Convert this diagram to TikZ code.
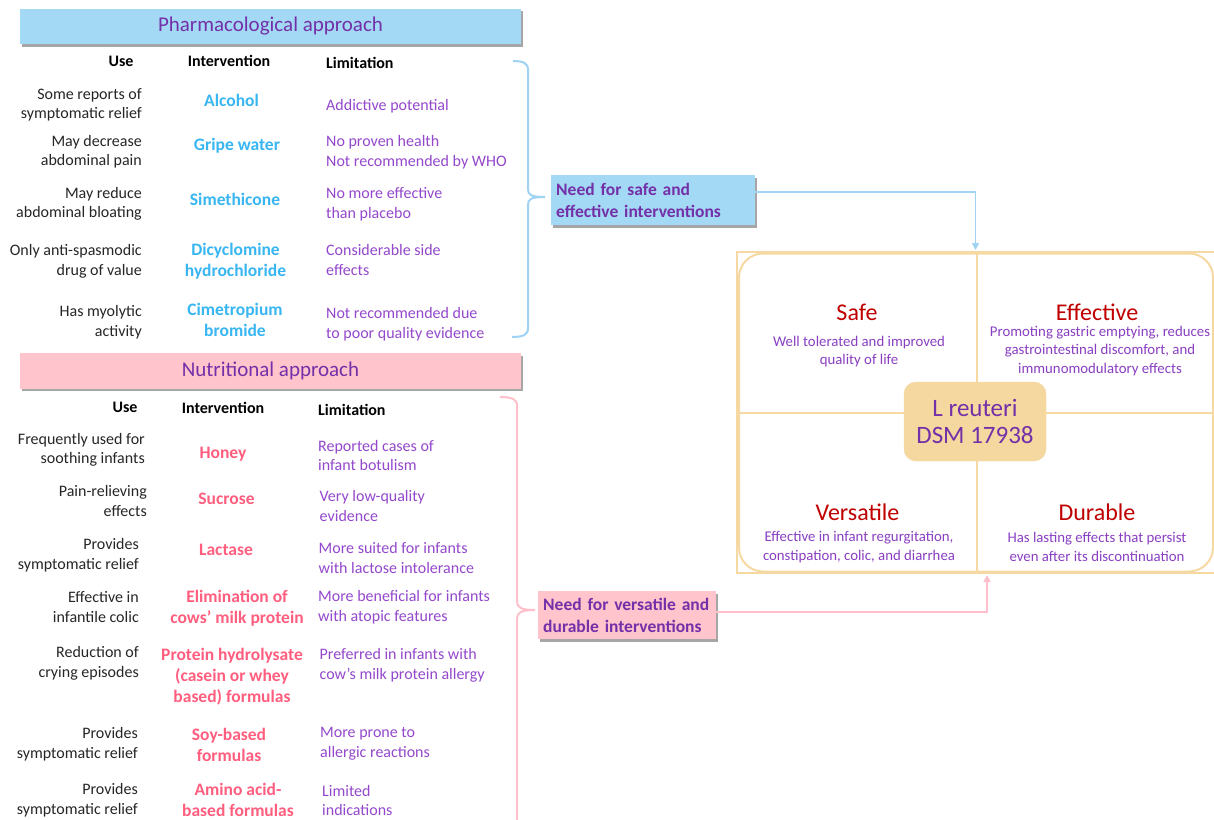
\documentclass[tikz,border=0pt]{standalone}
\usepackage{fontspec}
\setmainfont{Carlito}
\usetikzlibrary{shadows,arrows.meta}
\definecolor{hdrblue}{HTML}{A4D9F5}
\definecolor{hdrpink}{HTML}{FFC4CC}
\definecolor{hdrpurple}{HTML}{7330A8}
\definecolor{intblue}{HTML}{38B6F2}
\definecolor{intpink}{HTML}{FF5E7E}
\definecolor{limpurple}{HTML}{9448CC}
\definecolor{usegray}{HTML}{262626}
\definecolor{braceblue}{HTML}{9ED3F4}
\definecolor{bracepink}{HTML}{FFC0CB}
\definecolor{paneltan}{HTML}{F6D9A2}
\definecolor{centerfill}{HTML}{F4D8A0}
\definecolor{qred}{HTML}{C00000}
\definecolor{qpurple}{HTML}{8A3FC2}
\begin{document}
\begin{tikzpicture}[x=1pt,y=-1pt,
  usetxt/.style={anchor=east, align=right, inner sep=0pt, text=usegray, font=\fontsize{16}{19.8}\selectfont},
  colhd/.style={inner sep=0pt, text=black, font=\bfseries\fontsize{16}{19.5}\selectfont},
  pint/.style={align=center, inner sep=0pt, text=intblue, font=\bfseries\fontsize{17.5}{21}\selectfont},
  nint/.style={pint, text=intpink},
  limtxt/.style={anchor=west, align=left, inner sep=0pt, text=limpurple, font=\fontsize{16}{19.8}\selectfont},
  hdrbox/.style={minimum width=501pt, minimum height=35.5pt, inner sep=0pt, text=hdrpurple, font=\fontsize{21}{25}\selectfont, drop shadow={shadow xshift=1.5pt, shadow yshift=-2.5pt, fill=black, opacity=0.35}},
  needbox/.style={anchor=north west, align=left, inner xsep=5pt, inner ysep=0pt, text=hdrpurple, font=\bfseries\fontsize{17.5}{21.5}\selectfont, drop shadow={shadow xshift=1.5pt, shadow yshift=-2.5pt, fill=black, opacity=0.35}},
  qtitle/.style={inner sep=0pt, text=qred, font=\fontsize{24}{28}\selectfont},
  qbody/.style={align=center, inner sep=0pt, text=qpurple, font=\fontsize{14.8}{18.2}\selectfont},
  bluebrace/.style={draw=braceblue, line width=2pt},
  pinkbrace/.style={draw=bracepink, line width=2pt},
  bluecon/.style={draw=braceblue, line width=1.6pt, -{Triangle[width=7pt,length=7pt]}},
  pinkcon/.style={draw=bracepink, line width=1.6pt, -{Triangle[width=7pt,length=7pt]}},
  panelline/.style={draw=paneltan, line width=2pt}
]
\useasboundingbox (0,0) rectangle (1214,819);
\fill[white] (0,0) rectangle (1214,819);

% ---------- Pharmacological ----------
\node[hdrbox, fill=hdrblue] (phhdr) at (270.5,26.3) {Pharmacological approach};
\node[colhd] (phuse) at (121,61) {Use};
\node[colhd] (phint) at (229,61) {Intervention};
\node[colhd, anchor=west] (phlim) at (326,63) {Limitation};

\node[usetxt] (pu1) at (142,104.9) {Some reports of\\symptomatic relief};
\node[pint] (pi1) at (231.5,100.7) {Alcohol};
\node[limtxt] (pl1) at (326,106) {Addictive potential};

\node[usetxt] (pu2) at (142,151.8) {May decrease\\abdominal pain};
\node[pint] (pi2) at (237,146) {Gripe water};
\node[limtxt] (pl2) at (326,152) {No proven health\\Not recommended by WHO};

\node[usetxt] (pu3) at (142,203.9) {May reduce\\abdominal bloating};
\node[pint] (pi3) at (235,199.7) {Simethicone};
\node[limtxt] (pl3) at (326,203.9) {No more effective\\than placebo};

\node[usetxt] (pu4) at (142,261) {Only anti-spasmodic\\drug of value};
\node[pint] (pi4) at (235.5,261) {Dicyclomine\\hydrochloride};
\node[limtxt] (pl4) at (326,260.3) {Considerable side\\effects};

\node[usetxt] (pu5) at (142,322) {Has myolytic\\activity};
\node[pint] (pi5) at (235,319.6) {Cimetropium\\bromide};
\node[limtxt] (pl5) at (326,323.9) {Not recommended due\\to poor quality evidence};

\draw[bluebrace] (513,61) .. controls (523,61) and (528,63) .. (528,70) -- (528,189)
  .. controls (528,195) and (531,197) .. (545,197)
  .. controls (531,197) and (528,199) .. (528,205) -- (528,328)
  .. controls (528,335) and (523,337) .. (512,337);

\node[needbox, fill=hdrblue, minimum height=50pt, text width=194pt] (needsafe) at (551,175) {\mbox{Need for safe and}\\\mbox{effective interventions}};

% ---------- Nutritional ----------
\node[hdrbox, fill=hdrpink] (nuhdr) at (270.5,371) {Nutritional approach};
\node[colhd] (nuuse) at (125,407.5) {Use};
\node[colhd] (nuint) at (223,407.5) {Intervention};
\node[colhd, anchor=west] (nulim) at (318,409.5) {Limitation};

\node[usetxt] (nu1) at (145,449.8) {Frequently used for\\soothing infants};
\node[nint] (ni1) at (223,454) {Honey};
\node[limtxt] (nl1) at (318,455.4) {Reported cases of\\infant botulism};

\node[usetxt] (nu2) at (147,500.8) {Pain-relieving\\effects};
\node[nint] (ni2) at (226.5,499) {Sucrose};
\node[limtxt] (nl2) at (319.5,506) {Very low-quality\\evidence};

\node[usetxt] (nu3) at (139,555) {Provides\\symptomatic relief};
\node[nint] (ni3) at (226,550) {Lactase};
\node[limtxt] (nl3) at (318.5,557.8) {More suited for infants\\with lactose intolerance};

\node[usetxt] (nu4) at (139,606.8) {Effective in\\infantile colic};
\node[nint] (ni4) at (237,608) {Elimination of\\cows’ milk protein};
\node[limtxt] (nl4) at (318,607) {More beneficial for infants\\with atopic features};

\node[usetxt] (nu5) at (139,663.5) {Reduction of\\crying episodes};
\node[nint] (ni5) at (232,677) {Protein hydrolysate\\(casein or whey\\based) formulas};
\node[limtxt] (nl5) at (319.5,665) {Preferred in infants with\\cow’s milk protein allergy};

\node[usetxt] (nu6) at (138,744.5) {Provides\\symptomatic relief};
\node[nint] (ni6) at (229,744.5) {Soy-based\\formulas};
\node[limtxt] (nl6) at (320,743.5) {More prone to\\allergic reactions};

\node[usetxt] (nu7) at (138,800.5) {Provides\\symptomatic relief};
\node[nint] (ni7) at (238,800) {Amino acid-\\based formulas};
\node[limtxt] (nl7) at (322,800.5) {Limited\\indications};

\draw[pinkbrace] (500,397) .. controls (512,397) and (517,399) .. (517,406) -- (517,601)
  .. controls (517,607) and (520,610) .. (535,610)
  .. controls (520,610) and (517,613) .. (517,619) -- (517,830);

\node[needbox, fill=hdrpink, minimum height=48pt, text width=168pt] (needvers) at (538,591) {\mbox{Need for versatile and}\\\mbox{durable interventions}};

% ---------- Right panel ----------
\draw[panelline] (737,252) rectangle (1218,573);
\draw[panelline, rounded corners=24pt] (739,253.5) rectangle (1213,571.5);
\draw[panelline] (977,252) -- (977,573);
\draw[panelline] (737,413) -- (1218,413);

\node[fill=centerfill, draw=centerfill, rounded corners=12pt, minimum width=142pt, minimum height=79pt, inner sep=0pt, align=center, text=hdrpurple, font=\fontsize{25}{27.5}\selectfont] (lreut) at (975,421.5) {L reuteri\\DSM 17938};

\node[qtitle] (safe) at (857,312) {Safe};
\node[qbody] (safeb) at (859,351.5) {Well tolerated and improved\\quality of life};
\node[qtitle] (effe) at (1097,312) {Effective};
\node[qbody] (effeb) at (1100,351) {Promoting gastric emptying, reduces\\gastrointestinal discomfort, and\\immunomodulatory effects};
\node[qtitle] (vers) at (857.5,512) {Versatile};
\node[qbody] (versb) at (859,547) {Effective in infant regurgitation,\\constipation, colic, and diarrhea};
\node[qtitle] (dura) at (1097,512) {Durable};
\node[qbody] (durab) at (1097,547) {Has lasting effects that persist\\even after its discontinuation};

% ---------- Connectors ----------
\coordinate (paneltopin) at (975.5,250);
\coordinate (panelbotin) at (987,575);
\draw[bluecon] ([yshift=8pt]needsafe.east) -| (paneltopin);
\draw[pinkcon] ([yshift=3pt]needvers.east) -| (panelbotin);
\end{tikzpicture}
\end{document}
